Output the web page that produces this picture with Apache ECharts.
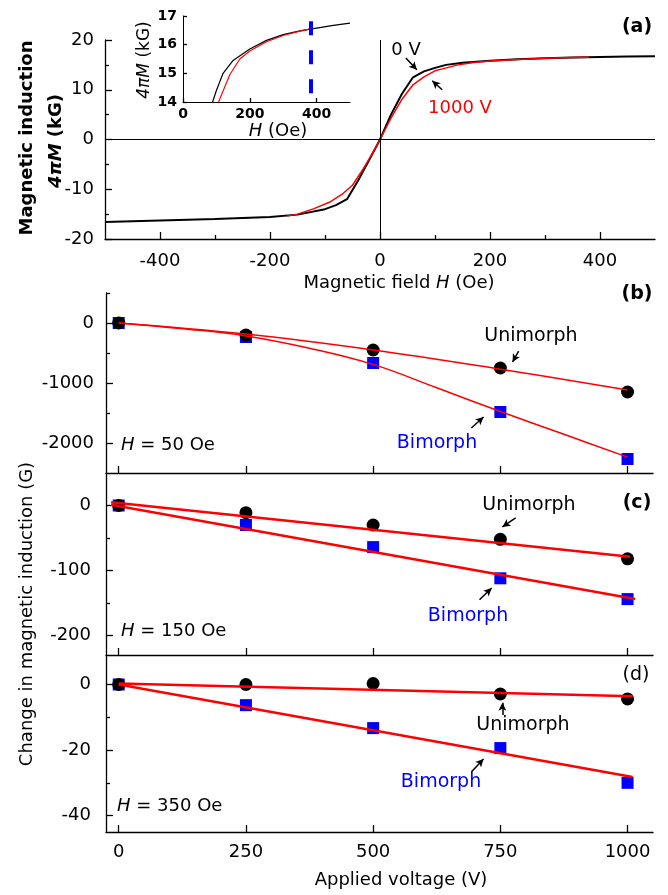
<!DOCTYPE html>
<html>
<head>
<meta charset="utf-8">
<script src="https://cdn.jsdelivr.net/npm/echarts@6/dist/echarts.min.js"></script>
<style>
  html, body { margin: 0; padding: 0; background: #fff; }
  #chart { width: 668px; height: 895px; }
</style>
</head>
<body>
<div id="chart"></div>
<script>
// panel (a): M-H loops, 0 V and 1000 V
const fieldBlack = [-500, -400, -300, -200, -150, -100, -80, -60, -40, -20, 0, 20, 40, 60, 80, 100, 120, 150, 200, 250, 300, 350, 400, 450, 500];
const induction0V = [-16.6, -16.3, -16.0, -15.6, -15.1, -14.0, -13.2, -12.0, -8.3, -4.2, 0, 5.0, 9.2, 12.5, 13.7, 14.4, 15.0, 15.45, 15.85, 16.15, 16.35, 16.48, 16.58, 16.67, 16.75];
const fieldRed = [-170, -150, -120, -90, -70, -50, -30, -15, 0, 20, 40, 60, 80, 100, 110, 140, 170, 200, 250, 300, 350, 380];
const induction1000V = [-15.4, -15.0, -13.9, -12.5, -11.1, -9.2, -5.8, -3.0, 0, 4.3, 8.1, 11.0, 12.6, 13.8, 14.1, 14.95, 15.5, 15.78, 16.1, 16.32, 16.47, 16.55];
const insetMarkerField = 382;

// panels (b)-(d): change in induction vs voltage
const voltage = [0, 250, 500, 750, 1000];
const uniH50 = [0, -200, -450, -750, -1150];
const biH50 = [0, -233, -667, -1483, -2267];
const uniH150 = [0, -11, -30, -52, -82];
const biH150 = [0, -30, -64, -112, -144];
const uniH350 = [0, 0, 0.3, -2.9, -4.4];
const biH350 = [0, -6.3, -13.3, -19.4, -30];

// fitted curves
const uniFitH50 = [[0, 0], [250, -185], [500, -450], [750, -770], [1000, -1115]];
const biFitH50 = [[0, 0], [125, -95], [250, -215], [375, -420], [500, -690], [625, -1080], [750, -1475], [875, -1855], [1000, -2235]];
const uniFitH150 = [[-15, 5], [1005, -79]];
const biFitH150 = [[-15, 1], [1015, -144]];
const uniFitH350 = [[0, 0.3], [1010, -3.6]];
const biFitH350 = [[0, 0], [1010, -28.2]];

// ticks
const fieldTicks = [-400, -200, 0, 200, 400];
const fieldMinor = [-300, -100, 100, 300];
const inductionTicks = [-20, -10, 0, 10, 20];
const inductionMinor = [-15, -5, 5, 15];
const voltageTicks = [0, 250, 500, 750, 1000];
const ticksB = [-2000, -1000, 0], minorB = [-1500, -500, 500];
const ticksC = [-200, -100, 0], minorC = [-150, -50];
const ticksD = [-40, -20, 0], minorD = [-30, -10];

const FONT = 'DejaVu Sans';
const chart = echarts.init(document.getElementById('chart'), null, { renderer: 'canvas' });

const black = '#000';
const tickLine = { color: black, width: 1.3 };

const xAxes = [], yAxes = [];
function addAxes(list, gridIndex, min, max, major, minor, label) {
  const pos = list === xAxes ? 'bottom' : 'left';
  list.push({
    type: 'value', gridIndex: gridIndex, min: min, max: max, position: pos,
    axisLine: { show: true, onZero: false, lineStyle: tickLine },
    axisTick: { show: true, inside: true, length: 7, customValues: major, lineStyle: tickLine },
    axisLabel: label ? Object.assign({ customValues: major, color: black, fontSize: 18, fontFamily: FONT, formatter: v => String(v) }, label) : { show: false },
    splitLine: { show: false }
  });
  const idx = list.length - 1;
  if (minor) {
    list.push({
      type: 'value', gridIndex: gridIndex, min: min, max: max, position: pos,
      axisLine: { show: false, onZero: false },
      axisTick: { show: true, inside: true, length: 4, customValues: minor, lineStyle: tickLine },
      axisLabel: { show: false },
      splitLine: { show: false }
    });
  }
  return idx;
}

// grid 0: (a)
const xa = addAxes(xAxes, 0, -500, 500, fieldTicks, fieldMinor, { margin: 13 });
const ya = addAxes(yAxes, 0, -20, 20, inductionTicks, inductionMinor, { margin: 11 });
// grid 1: inset
const xi = addAxes(xAxes, 1, 0, 500, [0, 200, 400], null, { customValues: [0, 200, 400], fontSize: 14, fontWeight: 'bold', margin: 5 });
const yi = addAxes(yAxes, 1, 14, 17, [14, 15, 16, 17], null, { customValues: [14, 15, 16, 17], fontSize: 14, fontWeight: 'bold', margin: 6 });
xAxes[xi].axisTick.length = 4; yAxes[yi].axisTick.length = 4;
xAxes[xi].axisLine.lineStyle = { color: black, width: 1 };
yAxes[yi].axisLine.lineStyle = { color: black, width: 1 };
// grids 2-4: (b) (c) (d)
const xb = addAxes(xAxes, 2, -25, 1050, voltageTicks, null, null);
const yb = addAxes(yAxes, 2, -2500, 500, ticksB, minorB, { margin: 12 });
const xc = addAxes(xAxes, 3, -25, 1050, voltageTicks, null, null);
const yc = addAxes(yAxes, 3, -230, 50, ticksC, minorC, { margin: 15 });
const xd = addAxes(xAxes, 4, -25, 1050, voltageTicks, null, { margin: 11 });
const yd = addAxes(yAxes, 4, -45, 9, ticksD, minorD, { margin: 15 });

function zip(xs, ys) { return xs.map((x, i) => [x, ys[i]]); }

function arrow(from, to) {
  return [
    { coord: from, symbol: 'none', lineStyle: { color: black, width: 1.5, type: 'solid' } },
    { coord: to, symbol: 'arrow', symbolSize: [6, 8] }
  ];
}

function panelSeries(xi, yi, uni, bi, uniFit, biFit, fitWidth, uniArrow, biArrow) {
  return [
    { type: 'scatter', xAxisIndex: xi, yAxisIndex: yi, data: zip(voltage, bi), symbol: 'rect', symbolSize: 12, itemStyle: { color: '#0000ff', opacity: 1 } },
    { type: 'scatter', xAxisIndex: xi, yAxisIndex: yi, data: zip(voltage, uni), symbol: 'circle', symbolSize: 13, itemStyle: { color: black, opacity: 1 } },
    { type: 'line', xAxisIndex: xi, yAxisIndex: yi, data: uniFit, smooth: uniFit.length > 2 ? 0.4 : false, symbol: 'none', lineStyle: { color: '#ff0000', width: fitWidth },
      markLine: { silent: true, symbol: 'none', label: { show: false }, data: [arrow(uniArrow[0], uniArrow[1])] } },
    { type: 'line', xAxisIndex: xi, yAxisIndex: yi, data: biFit, smooth: biFit.length > 2 ? 0.4 : false, symbol: 'none', lineStyle: { color: '#ff0000', width: fitWidth },
      markLine: { silent: true, symbol: 'none', label: { show: false }, data: [arrow(biArrow[0], biArrow[1])] } }
  ];
}

const series = [
  { type: 'line', xAxisIndex: xa, yAxisIndex: ya, data: zip(fieldBlack, induction0V), symbol: 'none', lineStyle: { color: black, width: 2 },
    markLine: { silent: true, symbol: 'none', label: { show: false }, lineStyle: { color: black, width: 1, type: 'solid' },
      data: [{ xAxis: 0 }, { yAxis: 0 }, arrow([47, 16.4], [67, 14.0])] } },
  { type: 'line', xAxisIndex: xa, yAxisIndex: ya, data: zip(fieldRed, induction1000V), symbol: 'none', lineStyle: { color: '#ff0000', width: 1.5 },
    markLine: { silent: true, symbol: 'none', label: { show: false }, data: [arrow([113, 10.0], [95, 11.8])] } },
  { type: 'line', xAxisIndex: xi, yAxisIndex: yi, data: zip(fieldBlack, induction0V), symbol: 'none', lineStyle: { color: black, width: 1.2 } },
  { type: 'line', xAxisIndex: xi, yAxisIndex: yi, data: zip(fieldRed, induction1000V), symbol: 'none', lineStyle: { color: '#ff0000', width: 1.2 },
    markLine: { silent: true, symbol: 'none', label: { show: false },
      lineStyle: { color: '#0000ff', width: 4, type: [14, 15] },
      data: [[{ coord: [insetMarkerField, 16.82] }, { coord: [insetMarkerField, 14] }]] } }
].concat(
  panelSeries(xb, yb, uniH50, biH50, uniFitH50, biFitH50, 1.5, [[786, -467], [774, -650]], [[693, -1750], [717, -1567]]),
  panelSeries(xc, yc, uniH150, biH150, uniFitH150, biFitH150, 2.5, [[780, -19], [754, -33]], [[709, -145], [733, -127]]),
  panelSeries(xd, yd, uniH350, biH350, uniFitH350, biFitH350, 2.5, [[754, -9.3], [754, -5.6]], [[693, -26.7], [717, -22.7]])
);

function txt(x, y, text, opts) {
  const o = opts || {};
  const size = o.size || 18;
  const color = o.color || black;
  return {
    type: 'text', x: x, y: y, rotation: o.rotate ? Math.PI / 2 : 0, silent: true,
    style: {
      text: text, fill: color, fontSize: size, fontFamily: FONT, fontWeight: o.bold ? 'bold' : 'normal',
      align: o.align || 'center', verticalAlign: 'middle',
      rich: { i: { fontStyle: 'italic', fontSize: size, fontFamily: FONT, fontWeight: o.bold ? 'bold' : 'normal', fill: color } }
    }
  };
}

const graphics = [
  txt(27, 138, 'Magnetic induction', { bold: true, rotate: true }),
  txt(56, 141, '{i|4πM} (kG)', { bold: true, rotate: true }),
  txt(145, 60, '{i|4πM} (kG)', { size: 17, rotate: true }),
  txt(278, 131, '{i|H} (Oe)', {}),
  txt(637, 27, '(a)', { bold: true, size: 19 }),
  txt(406, 50, '0 V', {}),
  txt(460, 108, '1000 V', { color: '#ff0000' }),
  txt(399, 283, 'Magnetic field {i|H} (Oe)', {}),
  txt(637, 294, '(b)', { bold: true, size: 19 }),
  txt(531, 336, 'Unimorph', { size: 19 }),
  txt(437, 443, 'Bimorph', { size: 19, color: '#0000ff' }),
  txt(121, 445, '{i|H} = 50 Oe', { align: 'left' }),
  txt(637, 503, '(c)', { bold: true, size: 19 }),
  txt(529, 505, 'Unimorph', { size: 19 }),
  txt(468, 616, 'Bimorph', { size: 19, color: '#0000ff' }),
  txt(121, 631, '{i|H} = 150 Oe', { align: 'left' }),
  txt(636, 675, '(d)', { size: 19 }),
  txt(523, 725, 'Unimorph', { size: 19 }),
  txt(441, 782, 'Bimorph', { size: 19, color: '#0000ff' }),
  txt(117, 806, '{i|H} = 350 Oe', { align: 'left' }),
  txt(27, 614, 'Change in magnetic induction (G)', { rotate: true }),
  txt(401, 880, 'Applied voltage (V)', {})
];

chart.setOption({
  animation: false,
  backgroundColor: '#fff',
  grid: [
    { left: 105, top: 40, width: 550, height: 199 },
    { left: 183, top: 16, width: 167, height: 86 },
    { left: 106, top: 293, width: 547, height: 180 },
    { left: 106, top: 473, width: 547, height: 182 },
    { left: 106, top: 655, width: 547, height: 177 }
  ],
  xAxis: xAxes,
  yAxis: yAxes,
  series: series,
  graphic: graphics
});
</script>
</body>
</html>
